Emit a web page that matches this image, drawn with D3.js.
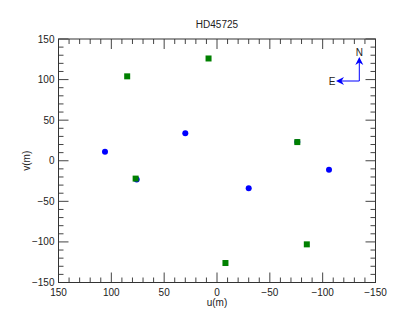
<!DOCTYPE html>
<meta charset="utf-8">
<style>
body { margin: 0; background: #fff; }
text { font-family: "Liberation Sans", Arial, sans-serif; fill: #222; }
.box { fill: none; stroke: #333; stroke-width: 1; }
</style>
<svg width="407" height="326"></svg>
<script src="https://d3js.org/d3.v7.min.js"></script>
<script>

var title = "HD45725";

// blue circles (u, v) in metres
var blueU = [106, 30, -30, -106, 76, -76];
var blueV = [11, 34, -34, -11, -23, 23];

// green squares
var greenU = [85, -85, 8, -8, -76, 77];
var greenV = [104, -103, 126, -126, 23, -22];

var majorTicks = [150, 100, 50, 0, -50, -100, -150];

var svg = d3.select("svg");
var pLeft = 58.5, pRight = 375.5, pTop = 39, pBottom = 282.5;

var x = d3.scaleLinear().domain([150, -150]).range([pLeft, pRight]);
var y = d3.scaleLinear().domain([-150, 150]).range([pBottom, pTop]);

var minorTicks = d3.range(-150, 151, 10);
function fmt(d) { return d < 0 ? "\u2212" + Math.abs(d) : "" + d; }

var g = svg.append("g");

// ticks, inward on all four sides
function ticks(vals, len) {
  vals.forEach(function(d) {
    g.append("line").attr("class", "t").attr("x1", x(d)).attr("x2", x(d)).attr("y1", pBottom).attr("y2", pBottom - len);
    g.append("line").attr("class", "t").attr("x1", x(d)).attr("x2", x(d)).attr("y1", pTop).attr("y2", pTop + len);
    g.append("line").attr("class", "t").attr("y1", y(d)).attr("y2", y(d)).attr("x1", pLeft).attr("x2", pLeft + len);
    g.append("line").attr("class", "t").attr("y1", y(d)).attr("y2", y(d)).attr("x1", pRight).attr("x2", pRight - len);
  });
}
ticks(minorTicks.filter(function(d) { return d % 50 !== 0; }), 5);
ticks(majorTicks, 10);
g.selectAll("line.t").attr("stroke", "#444").attr("stroke-width", 1);

g.append("rect").attr("class", "box")
  .attr("x", pLeft).attr("y", pTop).attr("width", pRight - pLeft).attr("height", pBottom - pTop);

// tick labels
svg.append("g").selectAll("text").data(majorTicks).join("text")
  .attr("x", function(d) { return x(d); }).attr("y", pBottom + 13)
  .attr("text-anchor", "middle").attr("font-size", 10).text(fmt);
svg.append("g").selectAll("text").data(majorTicks).join("text")
  .attr("x", pLeft - 4).attr("y", function(d) { return y(d) + 3.5; })
  .attr("text-anchor", "end").attr("font-size", 10).text(fmt);

svg.append("text").attr("x", (pLeft + pRight) / 2).attr("y", 28)
  .attr("text-anchor", "middle").attr("font-size", 10).text(title);
svg.append("text").attr("x", (pLeft + pRight) / 2).attr("y", 306)
  .attr("text-anchor", "middle").attr("font-size", 10).text("u(m)");
svg.append("text").attr("transform", "translate(30," + ((pTop + pBottom) / 2) + ") rotate(-90)")
  .attr("text-anchor", "middle").attr("font-size", 10).text("v(m)");

// points
svg.append("g").selectAll("circle").data(blueU).join("circle")
  .attr("cx", function(d) { return x(d); })
  .attr("cy", function(d, i) { return y(blueV[i]); })
  .attr("r", 3).attr("fill", "#0000ff");
svg.append("g").selectAll("rect").data(greenU).join("rect")
  .attr("x", function(d) { return x(d) - 3; })
  .attr("y", function(d, i) { return y(greenV[i]) - 3; })
  .attr("width", 6).attr("height", 6).attr("fill", "#008000");

// compass
var ox = 359.3, oy = 81;
var c = svg.append("g").attr("stroke", "#0000ff").attr("fill", "#0000ff");
c.append("line").attr("x1", ox).attr("y1", oy).attr("x2", ox).attr("y2", 60);
c.append("line").attr("x1", ox).attr("y1", oy).attr("x2", 339).attr("y2", oy);
c.append("path").attr("stroke", "none")
  .attr("d", "M" + ox + ",57 L" + (ox + 4) + ",65 L" + ox + ",62.5 L" + (ox - 4) + ",65 Z");
c.append("path").attr("stroke", "none")
  .attr("d", "M336," + oy + " L344," + (oy - 4) + " L341.5," + oy + " L344," + (oy + 4) + " Z");
svg.append("text").attr("x", ox).attr("y", 55.5).attr("text-anchor", "middle").attr("font-size", 10).text("N");
svg.append("text").attr("x", 332).attr("y", 84.5).attr("text-anchor", "middle").attr("font-size", 10).text("E");

</script>
